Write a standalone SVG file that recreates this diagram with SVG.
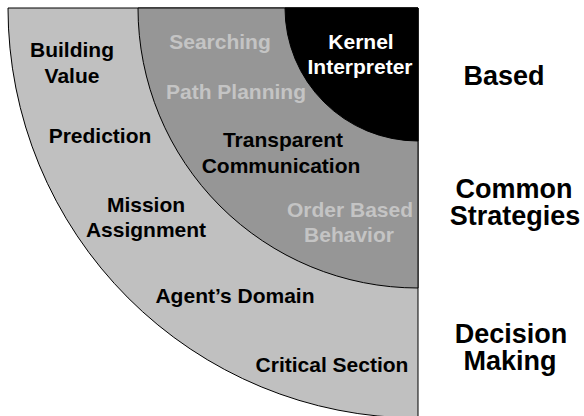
<svg xmlns="http://www.w3.org/2000/svg" width="584" height="416" viewBox="0 0 584 416">
  <style>
    .ring { stroke: #000; stroke-width: 1; }
    .outer { fill: #c0c0c0; }
    .middle { fill: #969696; }
    .inner { fill: #000; }
    text { font-family: "Liberation Sans", Arial, Helvetica, sans-serif; font-weight: bold; text-anchor: middle; }
    .lbl { font-size: 21px; fill: #000; }
    .dim { font-size: 21px; fill: #c4c4c4; }
    .inv { font-size: 21px; fill: #fff; }
    .side { font-size: 27px; fill: #000; }
  </style>
  <rect width="584" height="416" fill="#fff"/>

  <!-- quarter-circle layers, all centred on the top-right corner (418,8) -->
  <g id="decision-making">
    <path class="ring outer" d="M418,8 L8,8 A410,410 0 0 0 418,418 Z"/>
    <text class="lbl" x="72" y="57">Building</text>
    <text class="lbl" x="72" y="83">Value</text>
    <text class="lbl" x="100" y="143">Prediction</text>
    <text class="lbl" x="146" y="212">Mission</text>
    <text class="lbl" x="146" y="237">Assignment</text>
    <text class="lbl" x="235" y="303">Agent’s Domain</text>
    <text class="lbl" x="332" y="372">Critical Section</text>
  </g>

  <g id="common-strategies">
    <path class="ring middle" d="M418,8 L138,8 A280,280 0 0 0 418,288 Z"/>
    <text class="dim" x="220" y="49">Searching</text>
    <text class="dim" x="236" y="99">Path Planning</text>
    <text class="lbl" x="283" y="147">Transparent</text>
    <text class="lbl" x="281" y="173">Communication</text>
    <text class="dim" x="350" y="217">Order Based</text>
    <text class="dim" x="349" y="242">Behavior</text>
  </g>

  <g id="based">
    <path class="ring inner" d="M418,8 L285,8 A133,133 0 0 0 418,141 Z"/>
    <text class="inv" x="361" y="49">Kernel</text>
    <text class="inv" x="360" y="74">Interpreter</text>
  </g>

  <!-- layer captions on the right -->
  <g id="captions">
    <text class="side" x="504" y="85">Based</text>
    <text class="side" x="514" y="198">Common</text>
    <text class="side" x="515" y="225">Strategies</text>
    <text class="side" x="511" y="343">Decision</text>
    <text class="side" x="510" y="370">Making</text>
  </g>
</svg>
